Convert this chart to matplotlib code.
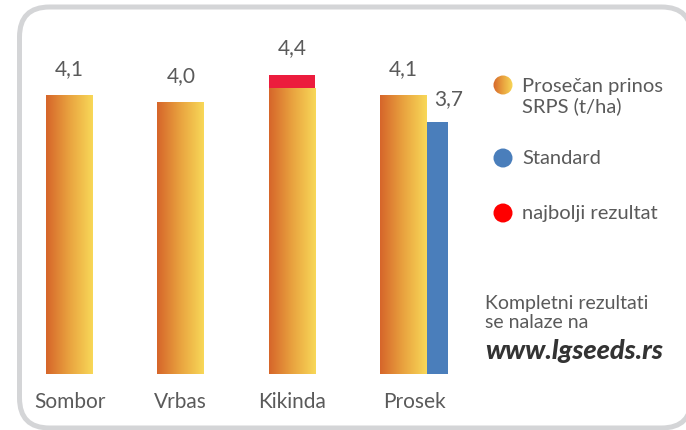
import numpy as np
import matplotlib.pyplot as plt
from matplotlib.patches import FancyBboxPatch, Circle
from matplotlib.colors import LinearSegmentedColormap

# podaci
mesta = ['Sombor', 'Vrbas', 'Kikinda', 'Prosek']
prinos = [4.1, 4.0, 4.2, 4.1]          # prosečan prinos SRPS (t/ha)
najbolji = [0.0, 0.0, 0.2, 0.0]        # dodatak do najboljeg rezultata
standard = 3.7                         # standard, samo uz prosek

W, H = 686, 430
fig = plt.figure(figsize=(W / 100, H / 100), dpi=100)
plt.rcParams['font.family'] = ['Lato', 'DejaVu Sans']
siva = '#5a5a5a'
tezina = 'normal'

# pozadina u pikselima (okvir, legenda, napomena)
bg = fig.add_axes([0, 0, 1, 1])
bg.axis('off')

okvir = FancyBboxPatch((19.5, 7), 672, 421, boxstyle='round,pad=0,rounding_size=30',
                       fc='white', ec='#d4d5d7', lw=3.6, zorder=1, clip_on=False)
bg.add_patch(okvir)

grad_cmap = LinearSegmentedColormap.from_list('nar', ['#d6652a', '#e9a33f', '#f8d858'])
grad = np.linspace(0, 1, 256).reshape(1, -1)

# bar chart
ax = fig.add_axes([0, 1 - 374 / H, 1, 340 / H])
ax.patch.set_alpha(0)
step = 111.3
ax.set_xlim(-69.5 / step, (W - 69.5) / step)
ax.set_ylim(0, 5)
for s in ax.spines.values():
    s.set_visible(False)
ax.set_yticks([])

x = np.arange(len(mesta))
bw = 0.42
sw = 0.19
bars = ax.bar(x, prinos, bw, color='none', zorder=2)
for b in bars:
    im = ax.imshow(grad, cmap=grad_cmap, aspect='auto', zorder=2,
                   extent=[b.get_x(), b.get_x() + b.get_width(), 0, b.get_height()])
    im.set_clip_path(b)
ax.bar(x, najbolji, bw, bottom=prinos, color='#ec1c3d', zorder=2)

xs = x[-1] + bw / 2 + sw / 2
ax.bar(xs, standard, sw, color='#4a7ebb', zorder=2)

ukupno = np.array(prinos) + np.array(najbolji)
for xi, v in zip(x, ukupno):
    ax.annotate(f'{v:.1f}'.replace('.', ','), (xi, v), xytext=(0, 19), textcoords='offset points',
                ha='center', va='center', fontsize=15, color=siva, fontweight=tezina)
ax.annotate(f'{standard:.1f}'.replace('.', ','), (xs, standard), xytext=(8, 17),
            textcoords='offset points', ha='center', va='center', fontsize=15,
            color=siva, fontweight=tezina)

tick_x = list(x[:-1]) + [(x[-1] - bw / 2 + xs + sw / 2) / 2]
ax.set_xticks(tick_x)
ax.set_xticklabels(mesta, fontsize=15, color=siva, fontweight=tezina)
ax.tick_params(axis='x', length=0, pad=13)

# legenda
leg = [('Prosečan prinos\nSRPS (t/ha)', None, 85, 97),
       ('Standard', '#4a7ebb', 158, 158),
       ('najbolji rezultat', '#ff0000', 213, 213)]
for tekst, boja, yc, yt in leg:
    c = Circle((503, yc), 9.5, ec='none', fc=boja if boja else 'none', zorder=3)
    bg.add_patch(c)
    if boja is None:
        im = bg.imshow(grad, cmap=grad_cmap, aspect='auto', zorder=3,
                       extent=[493, 513, yc + 10, yc - 10])
        im.set_clip_path(c)
    bg.text(522, yt, tekst, fontsize=14.5, color=siva, va='center', ha='left',
            fontweight=tezina, linespacing=1.15, zorder=3)

bg.text(485, 313, 'Kompletni rezultati\nse nalaze na', fontsize=14, color=siva,
        va='center', ha='left', fontweight=tezina, linespacing=1.2, zorder=3)
bg.text(485, 351, 'www.lgseeds.rs', fontsize=19.5, color='#333333', va='center', ha='left',
        fontweight='black', fontstyle='italic', zorder=3)
bg.set_xlim(0, W)
bg.set_ylim(H, 0)

fig.savefig('out.png', dpi=100)
